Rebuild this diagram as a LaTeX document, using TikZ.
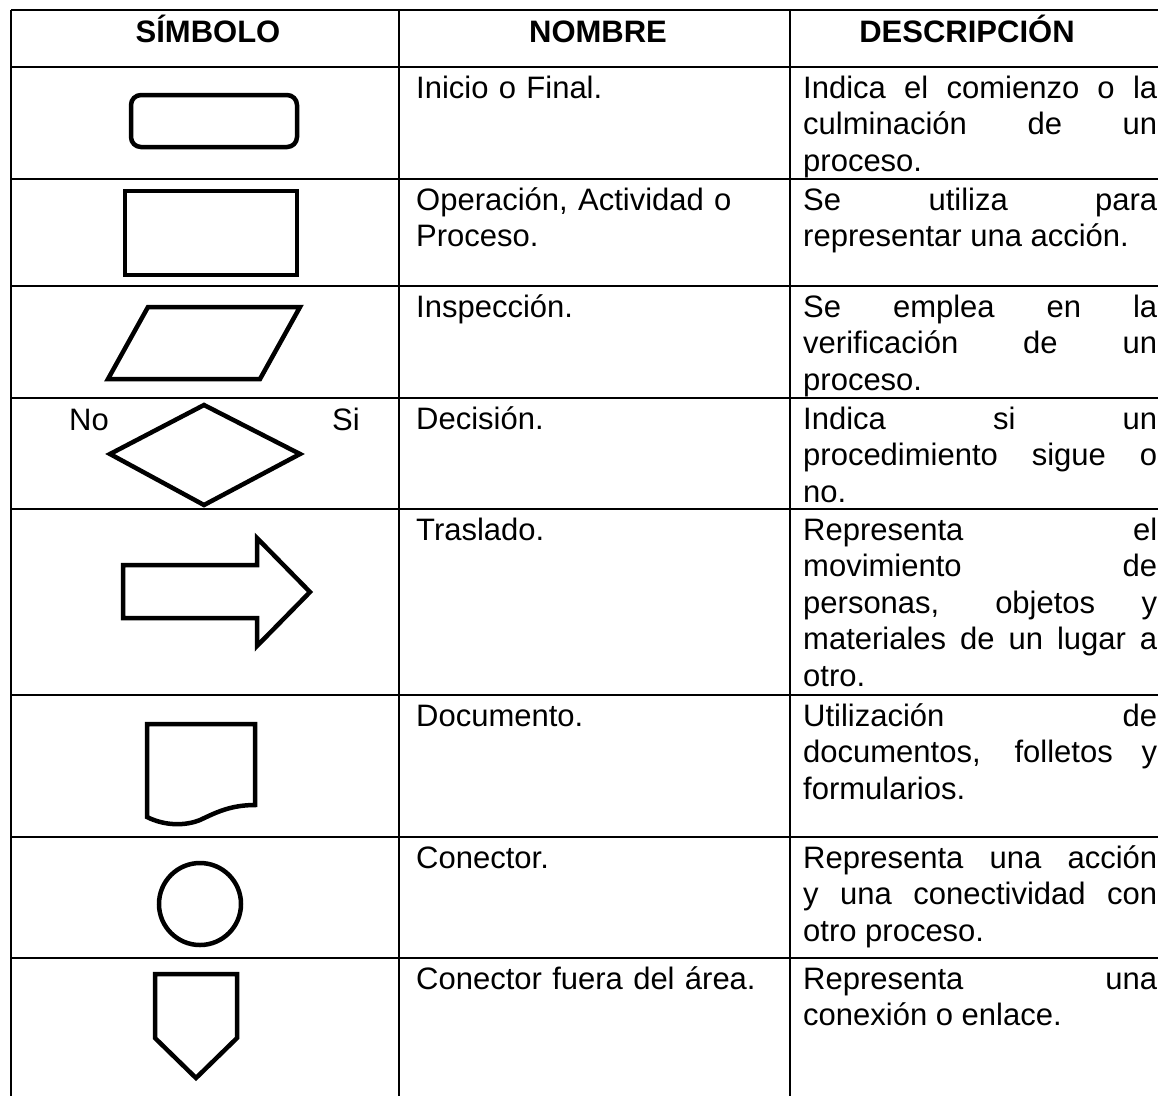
\documentclass[tikz,border=0pt]{standalone}
\usepackage{fontspec}
\setmainfont{Liberation Sans}
\tolerance=10000
\hbadness=10000
\hyphenpenalty=10000
\tikzset{
  rule/.style={line width=1.6pt},
  symb/.style={line width=4.5pt},
  head/.style={font=\fontsize{31}{36.5}\selectfont\bfseries, anchor=base, inner sep=0pt},
  nomtext/.style={font=\fontsize{31}{36.5}\selectfont, text width=370pt, align=left, anchor=base west, inner sep=0pt},
  desctext/.style={font=\fontsize{31}{36.5}\selectfont, text width=354pt, align=justify, anchor=base west, inner sep=0pt},
}
\begin{document}
\begin{tikzpicture}[x=1pt, y=-1pt, line join=miter]
\useasboundingbox (0,0) rectangle (1158,1096);
% table
\coordinate (c0t) at (11,10);
\coordinate (c0b) at (11,1096);
\coordinate (c1t) at (399,10);
\coordinate (c1b) at (399,1096);
\coordinate (c2t) at (790,10);
\coordinate (c2b) at (790,1096);
\draw[rule] (c0t)--(c0b) (c1t)--(c1b) (c2t)--(c2b);
\foreach \y in {10,67,179,286,398,509,695,837,958}
  \draw[rule] (11,\y) -- (1158,\y);
% header
\node[head] (h1) at (208,42) {SÍMBOLO};
\node[head] (h2) at (598,42) {NOMBRE};
\node[head] (h3) at (967,42) {DESCRIPCIÓN};
% symbols
\draw[symb, rounded corners=10pt] (131,95) rectangle (297,147);
\draw[symb] (125,191) rectangle (297,275);
\draw[symb] (148,307) -- (300,307) -- (260,379) -- (108,379) -- cycle;
\draw[symb] (204,405) -- (300,454) -- (204,505) -- (110,454) -- cycle;
\node[head, font=\fontsize{31}{36.5}\selectfont] (no) at (89,430) {No};
\node[head, font=\fontsize{31}{36.5}\selectfont] (si) at (346,430) {Si};
\draw[symb] (123,565) -- (257,565) -- (257,538) -- (310,592) -- (257,646)
  -- (257,618) -- (123,618) -- cycle;
\draw[symb] (255,805) -- (255,724) -- (147,724) -- (147,817)
  .. controls (165,826) and (185,826) .. (200,820)
  .. controls (215,813) and (230,805) .. (255,805) -- cycle;
\draw[symb] (200,904) circle (41);
\draw[symb] (155,974) -- (237,974) -- (237,1038) -- (196,1078) -- (155,1038) -- cycle;
% names
\node[nomtext] (n1) at (416,98) {Inicio o Final.};
\node[nomtext] (n2) at (416,210) {Operación, Actividad o\\Proceso.};
\node[nomtext] (n3) at (416,317) {Inspección.};
\node[nomtext] (n4) at (416,429) {Decisión.};
\node[nomtext] (n5) at (416,540) {Traslado.};
\node[nomtext] (n6) at (416,726) {Documento.};
\node[nomtext] (n7) at (416,868) {Conector.};
\node[nomtext] (n8) at (416,989) {Conector fuera del área.};
% descriptions
\node[desctext] (d1) at (803,98) {Indica el comienzo o la\linebreak culminación de un\linebreak proceso.};
\node[desctext] (d2) at (803,210) {Se utiliza para\linebreak representar una acción.};
\node[desctext] (d3) at (803,317) {Se emplea en la\linebreak verificación de un\linebreak proceso.};
\node[desctext] (d4) at (803,429) {Indica si un\linebreak procedimiento sigue o\linebreak no.};
\node[desctext] (d5) at (803,540) {Representa el\linebreak movimiento de\linebreak personas, objetos y\linebreak materiales de un lugar a\linebreak otro.};
\node[desctext] (d6) at (803,726) {Utilización de\linebreak documentos, folletos y\linebreak formularios.};
\node[desctext] (d7) at (803,868) {Representa una acción\linebreak y una conectividad con\linebreak otro proceso.};
\node[desctext] (d8) at (803,989) {Representa una\linebreak conexión o enlace.};
\end{tikzpicture}
\end{document}
